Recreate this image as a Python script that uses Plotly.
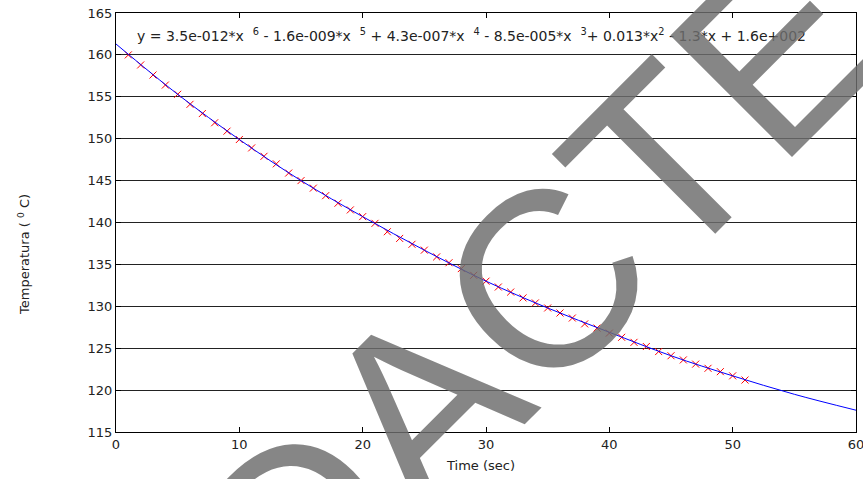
import plotly.graph_objects as go

# measured data (red x markers)
time_s = list(range(1, 52))
temp_c = [160.0, 158.8, 157.6, 156.4, 155.3, 154.1, 153.0, 151.9, 150.9, 149.9,
          148.9, 147.9, 147.0, 145.9, 145.0, 144.1, 143.2, 142.3, 141.5, 140.7,
          139.9, 138.9, 138.1, 137.4, 136.7, 135.9, 135.2, 134.5, 133.7, 133.0,
          132.3, 131.7, 131.0, 130.4, 129.8, 129.2, 128.6, 127.9, 127.4, 126.8,
          126.3, 125.7, 125.2, 124.6, 124.1, 123.6, 123.1, 122.6, 122.2, 121.7,
          121.2]

# fitted curve (blue line)
fit_t = [0, 5, 10, 15, 20, 25, 30, 35, 40, 45, 50, 55, 60]
fit_c = [161.3, 155.3, 149.9, 145.0, 140.7, 136.7, 133.0, 129.8, 126.9, 124.1, 121.7, 119.5, 117.6]

x_ticks = [0, 10, 20, 30, 40, 50, 60]
y_ticks = [115, 120, 125, 130, 135, 140, 145, 150, 155, 160, 165]

equation = ("y = 3.5e-012*x  <sup>6</sup> - 1.6e-009*x  <sup>5</sup> + 4.3e-007*x  <sup>4</sup>"
            " - 8.5e-005*x  <sup>3</sup>+ 0.013*x<sup>2</sup> - 1.3*x + 1.6e+002")

FONT = "DejaVu Sans"

fig = go.Figure()
fig.add_trace(go.Scatter(x=time_s, y=temp_c, mode="markers",
                         marker=dict(symbol="x-thin", size=7, color="red",
                                     line=dict(color="red", width=1)),
                         showlegend=False, hoverinfo="skip"))
fig.add_trace(go.Scatter(x=fit_t, y=fit_c, mode="lines",
                         line=dict(color="blue", width=1, shape="spline"),
                         showlegend=False, hoverinfo="skip"))

fig.update_layout(
    width=863, height=479,
    margin=dict(l=116, r=7, t=13, b=47, autoexpand=False),
    paper_bgcolor="white", plot_bgcolor="white",
    font=dict(family=FONT, size=13, color="#222"),
    xaxis=dict(range=[0, 60], tickvals=x_ticks, showgrid=False, zeroline=False,
               showline=True, linecolor="black", linewidth=1, mirror="allticks",
               ticks="inside", ticklen=5, tickcolor="black", tickfont=dict(size=13),
               ticklabeloverflow="allow", automargin=False),
    yaxis=dict(range=[115, 165], tickvals=y_ticks, showgrid=True, gridcolor="#222",
               gridwidth=1, zeroline=False,
               showline=True, linecolor="black", linewidth=1, mirror="allticks",
               ticks="inside", ticklen=5, tickcolor="black", tickfont=dict(size=13),
               ticklabeloverflow="allow", automargin=False),
    annotations=[
        dict(text=equation, xref="paper", yref="paper", x=0.0257, y=0.9475,
             xanchor="left", yanchor="middle", showarrow=False,
             font=dict(family=FONT, size=14, color="#222")),
        dict(text="Time (sec)", xref="paper", yref="paper", x=0.492, y=-0.081,
             xanchor="center", yanchor="middle", showarrow=False,
             font=dict(family=FONT, size=13, color="#222")),
        dict(text="Temperatura ( <sup>0</sup> C)", xref="paper", yref="paper",
             x=(24 - 116) / 740, y=(432 - 255) / 419, textangle=-90,
             xanchor="center", yanchor="middle", showarrow=False,
             font=dict(family=FONT, size=13, color="#222")),
        dict(text="REDACTED", xref="paper", yref="paper",
             x=(475 - 116) / 740, y=(432 - 351) / 419, textangle=-45,
             xanchor="center", yanchor="middle", showarrow=False,
             font=dict(family="Liberation Sans", size=250, color="rgba(110,110,110,0.83)")),
    ],
)

fig.write_html("out.html")
